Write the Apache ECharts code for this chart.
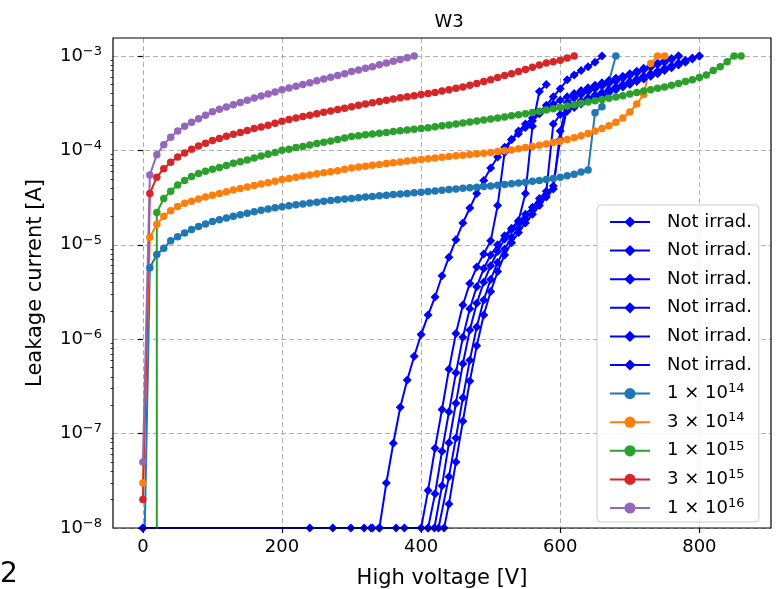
<!DOCTYPE html>
<html><head><meta charset="utf-8">
<script src="https://cdn.jsdelivr.net/npm/echarts@6/dist/echarts.min.js"></script>
<style>html,body{margin:0;padding:0;background:#fff}#c{width:784px;height:589px}</style>
</head><body><div id="c"></div>
<script>
// ---- tick values ----
const xTickValues = [0, 200, 400, 600, 800];
const yTickValues = [1e-8, 1e-7, 1e-6, 1e-5, 1e-4, 1e-3];
const xRange = [-43, 903];
const yRange = [1e-8, 1.55e-3];

// ---- data: [voltage V, current A] ----
const notIrradA = [[0,1e-8],[330,1e-8],[340,1e-8],[350,3e-8],[360,7.9e-8],[370,1.9e-7],[380,3.7e-7],[390,6.6e-7],[400,1.12e-6],[410,1.8e-6],[420,2.8e-6],[430,4.7e-6],[440,7.4e-6],[450,1.13e-5],[460,1.7e-5],[470,2.45e-5],[480,3.5e-5],[490,4.8e-5],[500,6.5e-5],[510,8.5e-5],[520,1.08e-4],[530,1.3e-4],[540,1.5e-4],[550,1.75e-4],[560,2.05e-4],[570,2.45e-4],[580,3.0e-4],[590,3.7e-4],[600,4.5e-4],[610,5.6e-4],[620,6.3e-4],[630,7.0e-4],[640,7.7e-4],[650,8.6e-4],[660,1.0e-3]];
const notIrradB = [[273,1e-8],[364,1e-8],[400,1e-8],[410,2.5e-8],[420,7e-8],[430,1.8e-7],[440,4.8e-7],[450,1.15e-6],[460,2.3e-6],[470,3.9e-6],[480,5.8e-6],[490,8e-6],[500,1.1e-5],[510,2.6e-5],[520,9.5e-5],[530,1.3e-4],[540,1.6e-4],[550,1.9e-4],[560,2.2e-4],[570,2.5e-4],[580,2.8e-4],[590,3.1e-4],[600,3.4e-4],[610,3.7e-4],[620,4.0e-4],[630,4.3e-4],[640,4.6e-4],[650,4.9e-4],[660,5.2e-4],[670,5.5e-4],[680,5.8e-4],[690,6.1e-4],[700,6.5e-4],[710,6.9e-4],[720,7.4e-4],[730,7.9e-4],[740,8.4e-4],[750,8.9e-4],[760,9.4e-4],[770,1e-3]];
const notIrradC = [[299,1e-8],[376,1e-8],[410,1e-8],[420,2.3e-8],[430,6.5e-8],[440,1.7e-7],[450,4.4e-7],[460,1.05e-6],[470,2.1e-6],[480,3.6e-6],[490,5.6e-6],[500,7.8e-6],[510,1.0e-5],[520,1.25e-5],[530,1.5e-5],[540,1.8e-5],[550,3.5e-5],[560,1.8e-4],[570,4.2e-4],[580,5e-4]];
const notIrradD = [[0,1e-8],[318,1e-8],[419,1e-8],[430,2.8e-8],[440,8e-8],[450,2.1e-7],[460,5.5e-7],[470,1.25e-6],[480,2.4e-6],[490,4e-6],[500,6e-6],[510,8.5e-6],[520,1.15e-5],[530,1.45e-5],[540,1.75e-5],[550,2.1e-5],[560,2.5e-5],[570,3.1e-5],[580,3.7e-5],[590,1.9e-4],[600,2.4e-4],[610,2.6e-4],[620,2.85e-4],[630,3.1e-4],[640,3.35e-4],[650,3.6e-4],[660,3.85e-4],[670,4.1e-4],[680,4.4e-4],[690,4.7e-4],[700,5e-4],[710,5.35e-4],[720,5.7e-4],[730,6.1e-4],[740,6.5e-4],[750,7e-4],[760,7.5e-4],[770,8e-4],[780,8.6e-4],[790,9.3e-4],[800,1e-3]];
const notIrradE = [[328,1e-8],[410,1e-8],[425,1e-8],[440,3.5e-8],[450,9e-8],[460,2.4e-7],[470,6e-7],[480,1.35e-6],[490,2.6e-6],[500,4.3e-6],[510,6.5e-6],[520,9e-6],[530,1.2e-5],[540,1.5e-5],[550,1.85e-5],[560,2.3e-5],[570,2.8e-5],[580,3.4e-5],[590,4.2e-5],[600,1.3e-4],[610,2.8e-4],[620,3.1e-4],[630,3.35e-4],[640,3.6e-4],[650,3.85e-4],[660,4.1e-4],[670,4.4e-4],[680,4.7e-4],[690,5e-4],[700,5.35e-4],[710,5.7e-4],[720,6.1e-4],[730,6.5e-4],[740,6.95e-4],[750,7.4e-4],[760,7.9e-4],[770,8.4e-4],[780,9e-4],[790,9.5e-4],[800,1e-3]];
const notIrradF = [[240,1e-8],[340,1e-8],[433,1e-8],[440,1.8e-8],[450,5e-8],[460,1.35e-7],[470,3.6e-7],[480,8.5e-7],[490,1.8e-6],[500,3.2e-6],[510,5.2e-6],[520,7.8e-6],[530,1.05e-5],[540,1.35e-5],[550,1.7e-5],[560,2.1e-5],[570,2.6e-5],[580,3.2e-5],[590,3.9e-5],[600,1.6e-4],[610,3.2e-4],[620,3.6e-4],[630,3.9e-4],[640,4.2e-4],[650,4.5e-4],[660,4.8e-4],[670,5.1e-4],[680,5.4e-4],[690,5.8e-4],[700,6.2e-4],[710,6.6e-4],[720,7.1e-4],[730,7.6e-4],[740,8.1e-4],[750,8.6e-4],[760,9.2e-4],[770,1e-3]];

const fluence1e14 = [[0,1e-9],[10,5.7e-6],[20,7.9e-6],[30,9.2e-6],[40,1.1e-5],[50,1.22e-5],[60,1.33e-5],[70,1.45e-5],[80,1.56e-5],[90,1.66e-5],[100,1.76e-5],[110,1.84e-5],[120,1.92e-5],[130,2.0e-5],[140,2.08e-5],[150,2.16e-5],[160,2.24e-5],[170,2.32e-5],[180,2.39e-5],[190,2.46e-5],[200,2.53e-5],[210,2.59e-5],[220,2.65e-5],[230,2.71e-5],[240,2.77e-5],[250,2.83e-5],[260,2.89e-5],[270,2.95e-5],[280,3.0e-5],[290,3.05e-5],[300,3.1e-5],[310,3.15e-5],[320,3.2e-5],[330,3.25e-5],[340,3.3e-5],[350,3.35e-5],[360,3.4e-5],[370,3.45e-5],[380,3.5e-5],[390,3.55e-5],[400,3.6e-5],[410,3.66e-5],[420,3.72e-5],[430,3.78e-5],[440,3.84e-5],[450,3.9e-5],[460,3.96e-5],[470,4.02e-5],[480,4.08e-5],[490,4.14e-5],[500,4.2e-5],[510,4.27e-5],[520,4.34e-5],[530,4.42e-5],[540,4.5e-5],[550,4.6e-5],[560,4.7e-5],[570,4.8e-5],[580,4.92e-5],[590,5.05e-5],[600,5.2e-5],[610,5.4e-5],[620,5.6e-5],[630,5.9e-5],[640,6.2e-5],[650,2.5e-4],[660,2.9e-4],[680,1.0e-3]];
const fluence3e14 = [[0,3e-8],[10,1.2e-5],[20,1.65e-5],[30,2.0e-5],[40,2.3e-5],[50,2.55e-5],[60,2.75e-5],[70,2.9e-5],[80,3.05e-5],[90,3.2e-5],[100,3.35e-5],[110,3.5e-5],[120,3.65e-5],[130,3.8e-5],[140,3.95e-5],[150,4.1e-5],[160,4.25e-5],[170,4.4e-5],[180,4.55e-5],[190,4.7e-5],[200,4.9e-5],[210,5.05e-5],[220,5.2e-5],[230,5.35e-5],[240,5.5e-5],[250,5.65e-5],[260,5.8e-5],[270,5.95e-5],[280,6.1e-5],[290,6.3e-5],[300,6.5e-5],[310,6.65e-5],[320,6.8e-5],[330,6.95e-5],[340,7.1e-5],[350,7.25e-5],[360,7.4e-5],[370,7.55e-5],[380,7.7e-5],[390,7.85e-5],[400,8.0e-5],[410,8.15e-5],[420,8.3e-5],[430,8.45e-5],[440,8.6e-5],[450,8.75e-5],[460,8.9e-5],[470,9.05e-5],[480,9.2e-5],[490,9.35e-5],[500,9.5e-5],[510,9.7e-5],[520,9.9e-5],[530,1.01e-4],[540,1.04e-4],[550,1.07e-4],[560,1.1e-4],[570,1.13e-4],[580,1.17e-4],[590,1.21e-4],[600,1.25e-4],[610,1.3e-4],[620,1.36e-4],[630,1.43e-4],[640,1.51e-4],[650,1.6e-4],[660,1.7e-4],[670,1.82e-4],[680,1.98e-4],[690,2.2e-4],[700,2.55e-4],[710,3.1e-4],[720,3.9e-4],[730,8.3e-4],[740,1.0e-3],[750,1.0e-3]];
const fluence1e15 = [[20,1e-12],[20,2.2e-5],[30,3.1e-5],[40,3.7e-5],[50,4.3e-5],[60,4.8e-5],[70,5.3e-5],[80,5.7e-5],[90,6.0e-5],[100,6.3e-5],[110,6.6e-5],[120,6.9e-5],[130,7.3e-5],[140,7.6e-5],[150,7.9e-5],[160,8.3e-5],[170,8.7e-5],[180,9.1e-5],[190,9.5e-5],[200,1.0e-4],[210,1.03e-4],[220,1.07e-4],[230,1.1e-4],[240,1.14e-4],[250,1.18e-4],[260,1.22e-4],[270,1.26e-4],[280,1.3e-4],[290,1.35e-4],[300,1.4e-4],[310,1.43e-4],[320,1.46e-4],[330,1.49e-4],[340,1.52e-4],[350,1.55e-4],[360,1.58e-4],[370,1.61e-4],[380,1.64e-4],[390,1.67e-4],[400,1.7e-4],[410,1.74e-4],[420,1.78e-4],[430,1.82e-4],[440,1.86e-4],[450,1.9e-4],[460,1.95e-4],[470,2.0e-4],[480,2.05e-4],[490,2.1e-4],[500,2.15e-4],[510,2.2e-4],[520,2.26e-4],[530,2.32e-4],[540,2.38e-4],[550,2.45e-4],[560,2.52e-4],[570,2.6e-4],[580,2.68e-4],[590,2.76e-4],[600,2.85e-4],[610,2.95e-4],[620,3.05e-4],[630,3.15e-4],[640,3.25e-4],[650,3.35e-4],[660,3.45e-4],[670,3.56e-4],[680,3.68e-4],[690,3.8e-4],[700,3.95e-4],[710,4.1e-4],[720,4.25e-4],[730,4.4e-4],[740,4.55e-4],[750,4.7e-4],[760,4.9e-4],[770,5.1e-4],[780,5.35e-4],[790,5.6e-4],[800,5.9e-4],[810,6.3e-4],[820,7.0e-4],[830,7.7e-4],[840,8.7e-4],[850,1.0e-3],[860,1.0e-3]];
const fluence3e15 = [[0,2e-8],[10,3.5e-5],[20,5.2e-5],[30,6.4e-5],[40,7.5e-5],[50,8.5e-5],[60,9.4e-5],[70,1.03e-4],[80,1.11e-4],[90,1.19e-4],[100,1.27e-4],[110,1.34e-4],[120,1.41e-4],[130,1.48e-4],[140,1.55e-4],[150,1.62e-4],[160,1.70e-4],[170,1.77e-4],[180,1.85e-4],[190,1.94e-4],[200,2.04e-4],[210,2.12e-4],[220,2.2e-4],[230,2.28e-4],[240,2.36e-4],[250,2.45e-4],[260,2.53e-4],[270,2.62e-4],[280,2.71e-4],[290,2.8e-4],[300,2.9e-4],[310,3.0e-4],[320,3.1e-4],[330,3.2e-4],[340,3.3e-4],[350,3.4e-4],[360,3.5e-4],[370,3.6e-4],[380,3.7e-4],[390,3.8e-4],[400,3.9e-4],[410,4.0e-4],[420,4.1e-4],[430,4.25e-4],[440,4.4e-4],[450,4.55e-4],[460,4.7e-4],[470,4.9e-4],[480,5.1e-4],[490,5.35e-4],[500,5.6e-4],[510,5.9e-4],[520,6.2e-4],[530,6.5e-4],[540,6.85e-4],[550,7.2e-4],[560,7.6e-4],[570,8.0e-4],[580,8.4e-4],[590,8.7e-4],[600,9.0e-4],[610,9.5e-4],[620,1.0e-3]];
const fluence1e16 = [[0,5e-8],[10,5.5e-5],[20,9.0e-5],[30,1.15e-4],[40,1.38e-4],[50,1.6e-4],[60,1.8e-4],[70,1.98e-4],[80,2.16e-4],[90,2.36e-4],[100,2.56e-4],[110,2.72e-4],[120,2.88e-4],[130,3.05e-4],[140,3.22e-4],[150,3.4e-4],[160,3.58e-4],[170,3.76e-4],[180,3.96e-4],[190,4.16e-4],[200,4.38e-4],[210,4.58e-4],[220,4.78e-4],[230,4.98e-4],[240,5.2e-4],[250,5.45e-4],[260,5.7e-4],[270,5.95e-4],[280,6.2e-4],[290,6.5e-4],[300,6.84e-4],[310,7.1e-4],[320,7.4e-4],[330,7.7e-4],[340,8.05e-4],[350,8.4e-4],[360,8.8e-4],[370,9.2e-4],[380,9.6e-4],[390,1.0e-3]];

const notIrradCurves = [notIrradA, notIrradB, notIrradC, notIrradD, notIrradE, notIrradF];
const fluenceCurves = [fluence1e14, fluence3e14, fluence1e15, fluence3e15, fluence1e16];
const fluenceLabels = [['1','14'], ['3','14'], ['1','15'], ['3','15'], ['1','16']];
const notIrradLabel = 'Not irrad.';
const fluenceColors = ['#1f77b4', '#ff7f0e', '#2ca02c', '#d62728', '#9467bd'];
const blue = '#0000ff';

const FONT = 'DejaVu Sans';
const minorY = [];
for (let e = -8; e <= -3; e++) for (let k = 2; k <= 9; k++) { const v = k * Math.pow(10, e); if (v < yRange[1]) minorY.push(v); }

const supStyle = { fontFamily: FONT, fontSize: 13, lineHeight: 13, verticalAlign: 'top', color: '#000' };

const series = [];
const nameMap = {};
notIrradCurves.forEach((d, i) => {
  const nm = 'ni' + i;
  nameMap[nm] = notIrradLabel;
  series.push({
    name: nm, type: 'line', data: d, symbol: 'diamond', symbolSize: 9,
    lineStyle: { color: blue, width: 2 }, itemStyle: { color: blue }, clip: true, z: 2
  });
});
fluenceCurves.forEach((d, i) => {
  const nm = 'f' + i;
  nameMap[nm] = fluenceLabels[i][0] + ' × 10{sup|' + fluenceLabels[i][1] + '}';
  series.push({
    name: nm, type: 'line', data: d, symbol: 'circle', symbolSize: 7.5,
    lineStyle: { color: fluenceColors[i], width: 2 }, itemStyle: { color: fluenceColors[i] }, clip: true, z: 2
  });
});

const chart = echarts.init(document.getElementById('c'), null, { renderer: 'canvas' });
chart.setOption({
  animation: false,
  backgroundColor: '#fff',
  textStyle: { fontFamily: FONT },
  title: { text: 'W3', left: 444, top: 8, textAlign: 'center',
    textStyle: { fontFamily: FONT, fontSize: 18, fontWeight: 'normal', color: '#000' } },
  grid: { left: 113, right: 13, top: 38, bottom: 61, show: true, borderColor: '#000', borderWidth: 1.2,
    backgroundColor: 'transparent', z: 5, containLabel: false, outerBoundsMode: 'none' },
  legend: {
    orient: 'vertical', left: 597, top: 205,
    itemWidth: 40, itemHeight: 14, itemGap: 6.6,
    backgroundColor: 'rgba(255,255,255,0.85)', borderColor: '#cccccc', borderWidth: 1, borderRadius: 4,
    padding: [6, 7, 3, 12],
    data: series.map(s => s.name),
    formatter: n => nameMap[n],
    textStyle: { fontFamily: FONT, fontSize: 18, lineHeight: 22, color: '#000', padding: [0, 0, 0, 12],
      rich: { sup: supStyle } },
    z: 10
  },
  xAxis: {
    type: 'value', min: xRange[0], max: xRange[1],
    name: 'High voltage [V]', nameLocation: 'middle', nameGap: 40,
    nameTextStyle: { fontFamily: FONT, fontSize: 21, color: '#000' },
    axisLine: { show: false },
    axisTick: { show: true, customValues: xTickValues, length: 5, lineStyle: { color: '#000', width: 1.2 } },
    axisLabel: { customValues: xTickValues, fontFamily: FONT, fontSize: 18, color: '#000', margin: 10 },
    splitLine: { show: true, lineStyle: { color: '#b0b0b0', type: [5, 3], width: 1 } }
  },
  yAxis: [{
    type: 'log', logBase: 10, min: yRange[0], max: yRange[1],
    name: 'Leakage current [A]', nameLocation: 'middle', nameGap: 67,
    nameTextStyle: { fontFamily: FONT, fontSize: 21, color: '#000' },
    axisLine: { show: false },
    axisTick: { show: true, customValues: yTickValues, length: 5, lineStyle: { color: '#000', width: 1.2 } },
    axisLabel: {
      customValues: yTickValues, fontFamily: FONT, fontSize: 18, lineHeight: 22, color: '#000', margin: 11,
      formatter: v => { const e = Math.round(Math.log10(v)); return '10{sup|−' + Math.abs(e) + '}'; },
      rich: { sup: supStyle }
    },
    splitLine: { show: true, lineStyle: { color: '#b0b0b0', type: [5, 3], width: 1 } }
  }, {
    type: 'log', logBase: 10, min: yRange[0], max: yRange[1], position: 'left',
    axisLine: { show: false }, axisLabel: { show: false }, splitLine: { show: false },
    axisTick: { show: true, customValues: minorY, length: 2.5, lineStyle: { color: '#000', width: 0.8 } }
  }],
  graphic: [{ type: 'text', left: 0, top: 561, style: { text: '2', fontFamily: FONT, fontSize: 28, fill: '#000' } }],
  series: series
});
</script></body></html>
